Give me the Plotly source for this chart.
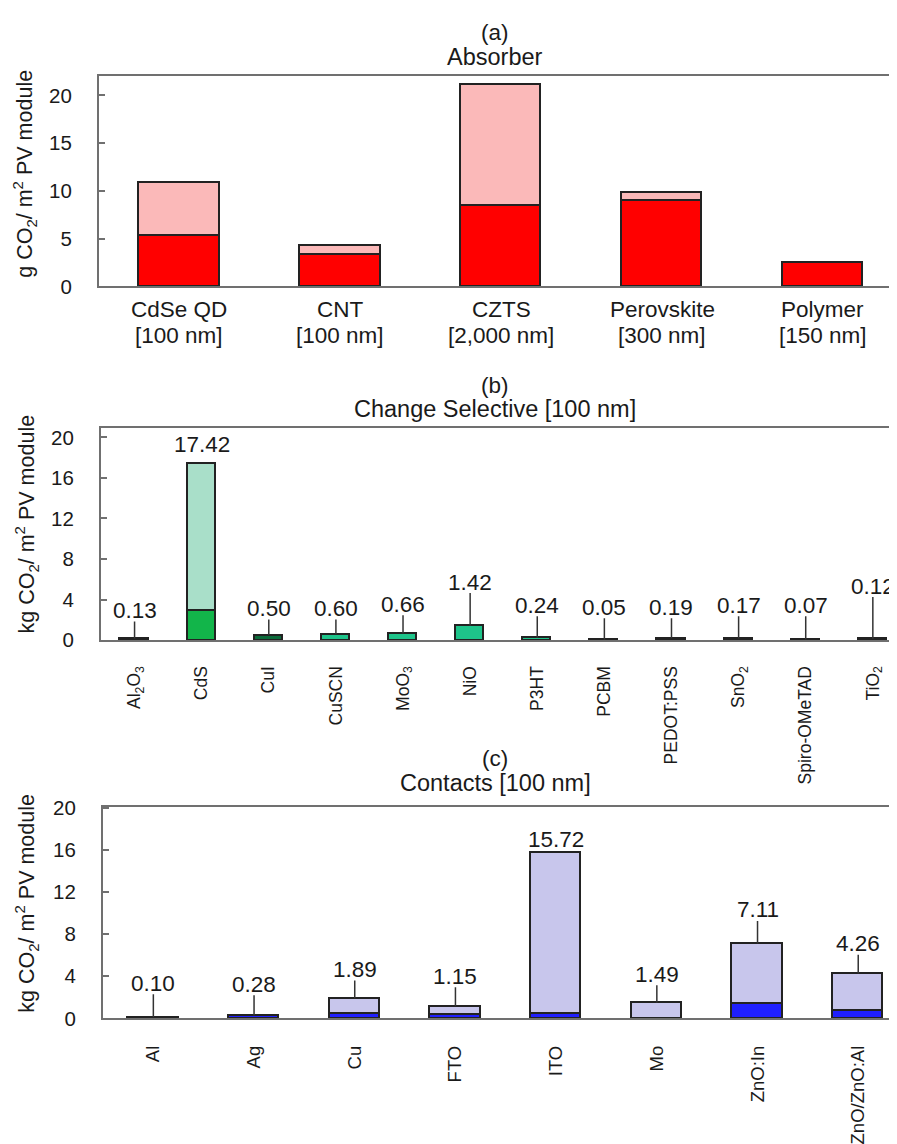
import plotly.graph_objects as go

# ---------------- data ----------------
# (a) Absorber
a_materials = ["CdSe QD", "CNT", "CZTS", "Perovskite", "Polymer"]
a_thickness = ["[100 nm]", "[100 nm]", "[2,000 nm]", "[300 nm]", "[150 nm]"]
a_dark = [5.3, 3.3, 8.4, 9.0, 2.5]
a_light = [5.6, 1.0, 12.7, 0.8, 0.0]

# (b) Charge selective
b_materials = ["Al<sub>2</sub>O<sub>3</sub>", "CdS", "CuI", "CuSCN", "MoO<sub>3</sub>", "NiO",
               "P3HT", "PCBM", "PEDOT:PSS", "SnO<sub>2</sub>", "Spiro-OMeTAD", "TiO<sub>2</sub>"]
b_totals = [0.13, 17.42, 0.50, 0.60, 0.66, 1.42, 0.24, 0.05, 0.19, 0.17, 0.07, 0.12]
b_dark = [0.13, 2.9, 0.50, 0.60, 0.66, 1.42, 0.24, 0.05, 0.19, 0.17, 0.07, 0.12]

# (c) Contacts
c_materials = ["Al", "Ag", "Cu", "FTO", "ITO", "Mo", "ZnO:In", "ZnO/ZnO:Al"]
c_totals = [0.10, 0.28, 1.89, 1.15, 15.72, 1.49, 7.11, 4.26]
c_dark = [0.10, 0.28, 0.40, 0.35, 0.45, 0.0, 1.40, 0.75]

# ---------------- layout / style ----------------
# label heights (data units) for the value annotations
b_label_pos = [2.9, 19.3, 3.1, 3.1, 3.5, 5.7, 3.4, 3.2, 3.2, 3.4, 3.4, 5.3]
c_label_pos = [3.35, 3.25, 4.65, 4.0, 17.0, 4.2, 10.3, 7.1]
b_leader = [True, False] + [True] * 10
c_leader = [True, True, True, True, False, True, True, True]
leader_gap = 1.05

b_dark_colors = ["#1ec48a", "#12b54a", "#0b6b3a", "#1ec48a", "#1ec48a", "#1ec48a",
                 "#1ec48a", "#1ec48a", "#1ec48a", "#1ec48a", "#1ec48a", "#1ec48a"]

FONT = "Arial, Liberation Sans, sans-serif"
TXT = "#1a1a1a"
AXC = "#707070"
OUT = dict(color="#222222", width=1.6)

OFF = 8            # the page body margin of the html page
W, H = 897 - OFF, 1144 - OFF


def px_x(p):
    return (p - OFF) / W


def px_y(p):
    return 1 - (p - OFF) / H


fig = go.Figure()

# (a)
fig.add_trace(go.Bar(x=a_materials, y=a_dark, width=0.5, xaxis="x", yaxis="y",
                     marker=dict(color="#ff0000", line=OUT)))
fig.add_trace(go.Bar(x=a_materials, y=a_light, width=0.5, xaxis="x", yaxis="y",
                     marker=dict(color="#fbb9b9", line=OUT)))

# (b)
b_light = [round(t - d, 2) for t, d in zip(b_totals, b_dark)]
fig.add_trace(go.Bar(x=b_materials, y=b_dark, width=0.42, xaxis="x2", yaxis="y2",
                     marker=dict(color=b_dark_colors, line=OUT)))
fig.add_trace(go.Bar(x=b_materials, y=b_light, width=0.42, xaxis="x2", yaxis="y2",
                     marker=dict(color="#a9dfc9", line=OUT)))

# (c)
c_light = [round(t - d, 2) for t, d in zip(c_totals, c_dark)]
fig.add_trace(go.Bar(x=c_materials, y=c_dark, width=0.5, xaxis="x3", yaxis="y3",
                     marker=dict(color="#1f1fff", line=OUT)))
fig.add_trace(go.Bar(x=c_materials, y=c_light, width=0.5, xaxis="x3", yaxis="y3",
                     marker=dict(color="#c8c6ec", line=OUT)))

annotations = []
shapes = []

# two-line category labels of (a)
for i, (m, t) in enumerate(zip(a_materials, a_thickness)):
    for txt, yp in ((m, 305), (t, 331)):
        annotations.append(dict(x=i, y=px_y(yp), xref="x", yref="paper", text=txt,
                                showarrow=False, yanchor="middle",
                                font=dict(size=22.5, color=TXT, family=FONT)))

# value labels
for ax, totals, pos, lead in (("2", b_totals, b_label_pos, b_leader),
                               ("3", c_totals, c_label_pos, c_leader)):
    for i, (t, p, l) in enumerate(zip(totals, pos, lead)):
        annotations.append(dict(x=i, y=p, xref="x" + ax, yref="y" + ax, text=f"{t:.2f}",
                                showarrow=False, yanchor="middle",
                                font=dict(size=22.5, color=TXT, family=FONT)))
        if l:
            shapes.append(dict(type="line", xref="x" + ax, yref="y" + ax, x0=i, x1=i,
                               y0=t, y1=p - leader_gap, line=dict(color="#333333", width=1.5)))

# titles
for label, title, y1, y2 in (("(a)", "Absorber", 22, 47),
                             ("(b)", "Change Selective [100 nm]", 382, 406),
                             ("(c)", "Contacts [100 nm]", 763, 788)):
    annotations.append(dict(x=px_x(495), y=px_y(y1), xref="paper", yref="paper", text=label,
                            showarrow=False, yanchor="middle",
                            font=dict(size=22.5, color=TXT, family=FONT)))
    annotations.append(dict(x=px_x(495), y=px_y(y2), xref="paper", yref="paper", text=title,
                            showarrow=False, yanchor="middle",
                            font=dict(size=23.5, color=TXT, family=FONT)))

# y-axis titles
for unit, xp, yp in (("g", 25, 166), ("kg", 27, 524), ("kg", 27, 911)):
    annotations.append(dict(x=px_x(xp), y=px_y(yp), xref="paper", yref="paper",
                            text=f"{unit} CO<sub>2</sub>/ m<sup>2</sup> PV module",
                            textangle=-90, showarrow=False, xanchor="center", yanchor="middle",
                            font=dict(size=21.5, color=TXT, family=FONT)))


def xax(left, rng, size, angle=None, standoff=8):
    d = dict(domain=[px_x(left), 1], range=rng, showline=True, mirror=True, linecolor=AXC,
             linewidth=2, ticks="", showgrid=False, zeroline=False, fixedrange=True,
             tickfont=dict(size=size, color=TXT, family=FONT), ticklabelstandoff=standoff)
    if angle is not None:
        d["tickangle"] = angle
    return d


def yax(top_px, bot_px, rng, dtick):
    return dict(domain=[px_y(bot_px), px_y(top_px)], range=rng, showline=True, linecolor=AXC,
                linewidth=2, ticks="inside", ticklen=6, tickcolor=AXC, tickwidth=1.5,
                dtick=dtick, tick0=0, showgrid=False, zeroline=False, fixedrange=True,
                tickfont=dict(size=20.5, color=TXT, family=FONT), ticklabelstandoff=21)


layout = dict(
    width=W, height=H, margin=dict(l=0, r=0, t=0, b=0),
    paper_bgcolor="white", plot_bgcolor="white",
    barmode="stack", showlegend=False, bargap=0,
    font=dict(family=FONT, color=TXT),
    xaxis=dict(xax(99, [-0.5, 4.46], 22.5), anchor="y", showticklabels=False),
    yaxis=dict(yax(66, 281, [0, 22.05], 5), anchor="x"),
    xaxis2=dict(xax(101, [-0.5, 11.36], 17.5, angle=-90, standoff=17), anchor="y2"),
    yaxis2=dict(yax(425, 642, [0, 20.97], 4), anchor="x2"),
    xaxis3=dict(xax(103, [-0.5, 7.385], 18.5, angle=-90, standoff=18), anchor="y3"),
    yaxis3=dict(yax(812, 1028, [0, 20.1], 4), anchor="x3"),
    annotations=annotations, shapes=shapes,
)
fig.update_layout(**layout)
fig.write_html("out.html")
